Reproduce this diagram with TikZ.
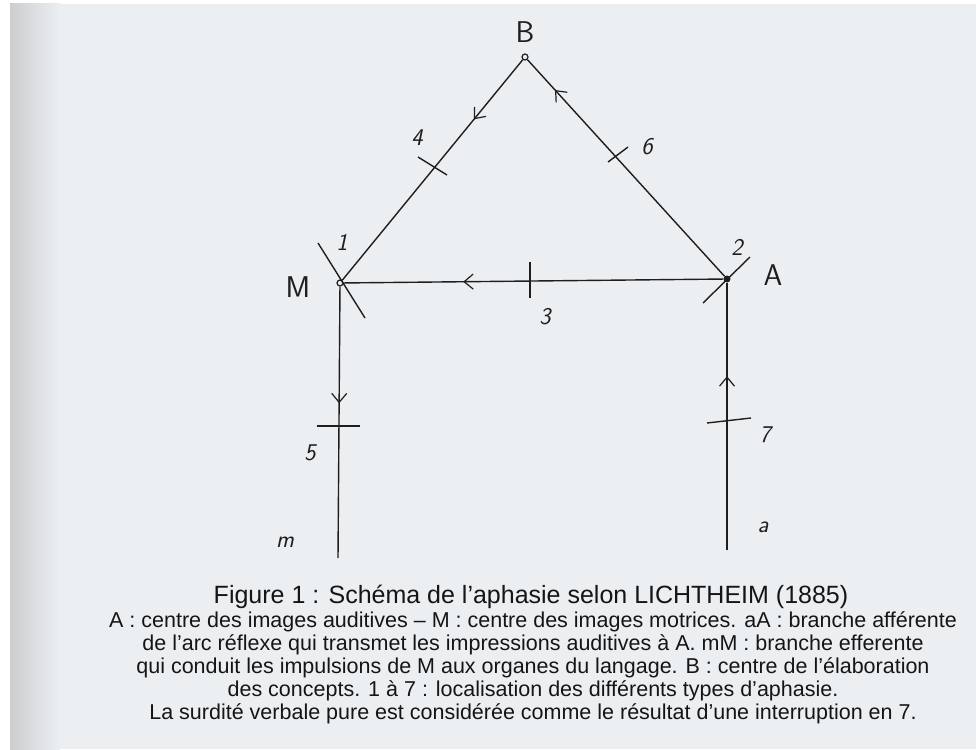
\documentclass[tikz,border=0pt]{standalone}
\usepackage{fontspec}
\setmainfont{Liberation Sans}
\usetikzlibrary{decorations.markings,arrows.meta,calc}
\definecolor{paper}{HTML}{ECEFF2}
\definecolor{ink}{HTML}{1E1E1E}
\definecolor{capink}{HTML}{151515}
\tikzset{
  wire/.style={draw=ink, line width=1.4pt},
  tickline/.style={draw=ink, line width=1.4pt},
  midarrow/.style={postaction={decorate}, decoration={markings,
      mark=at position #1 with {\arrow[ink, line width=1.2pt]{Straight Barb[length=9pt,width=15pt]}}}},
  openpt/.style={circle, draw=ink, line width=1.2pt, inner sep=0pt, minimum size=6pt},
  fullpt/.style={circle, fill=ink, inner sep=0pt, minimum size=7pt},
  biglbl/.style={font=\sffamily\fontsize{30}{30}\selectfont, text=ink, inner sep=0pt},
  numlbl/.style={font=\sffamily\itshape\fontsize{24}{24}\selectfont, text=ink, inner sep=0pt},
  capline/.style={font=\fontsize{21.5}{22}\selectfont, text=capink, inner sep=0pt, anchor=center},
  captitle/.style={font=\fontsize{25}{25}\selectfont, text=capink, inner sep=0pt, anchor=center}
}
\begin{document}
\begin{tikzpicture}[x=1pt, y=-1pt]
\useasboundingbox (0,0) rectangle (976,749);
% paper
\fill[white] (0,0) rectangle (976,749);
\fill[paper] (10,4) rectangle (976,749);
\shade[left color=gray!30!paper, right color=paper] (10,4) rectangle (60,749);

% points
\node[openpt] (B) at (525,57) {};
\node[openpt] (M) at (340,283) {};
\node[fullpt] (A) at (727,279) {};
\coordinate (m) at (338,558);
\coordinate (a) at (727,550);

% connectors
\draw[wire, midarrow=0.27] (B) -- (M);
\draw[wire, midarrow=0.86] (A) -- (B);
\draw[wire, midarrow=0.685] (A) -- (M);
\draw[wire, midarrow=0.43] (M) -- (m);
\draw[wire, midarrow=0.65] (a) -- (A);

% interruption ticks
\draw[tickline] (318,243) -- (365,318);
\draw[tickline] (703,303) -- (750,257);
\draw[tickline] (530,262) -- (530,298);
\draw[tickline] (418,157) -- (447,175);
\draw[tickline] (317,426) -- (360,426);
\draw[tickline] (608,162) -- (628,147);
\draw[tickline] (707,423) -- (751,418);

% labels
\node[biglbl] (lB) at (525,32) {B};
\node[biglbl] (lM) at (298,287) {M};
\node[biglbl] (lA) at (773,275) {A};
\node[numlbl] (l1) at (342,242) {1};
\node[numlbl] (l2) at (737,247) {2};
\node[numlbl] (l3) at (545,317) {3};
\node[numlbl] (l4) at (417,138) {4};
\node[numlbl] (l5) at (310,453) {5};
\node[numlbl] (l6) at (647,147) {6};
\node[numlbl] (l7) at (765,435) {7};
\node[numlbl] (lm) at (285,542) {m};
\node[numlbl] (la) at (763,527) {a};

% caption
\node[captitle] (cap0) at (531,597) {Figure 1 : Schéma de l’aphasie selon LICHTHEIM (1885)};
\node[capline] (cap1) at (533,622) {A : centre des images auditives – M : centre des images motrices. aA : branche afférente};
\node[capline] (cap2) at (533,645) {de l’arc réflexe qui transmet les impressions auditives à A. mM : branche efferente};
\node[capline] (cap3) at (533,668) {qui conduit les impulsions de M aux organes du langage. B : centre de l’élaboration};
\node[capline] (cap4) at (533,691) {des concepts. 1 à 7 : localisation des différents types d’aphasie.};
\node[capline] (cap5) at (533,714) {La surdité verbale pure est considérée comme le résultat d’une interruption en 7.};
\end{tikzpicture}
\end{document}
